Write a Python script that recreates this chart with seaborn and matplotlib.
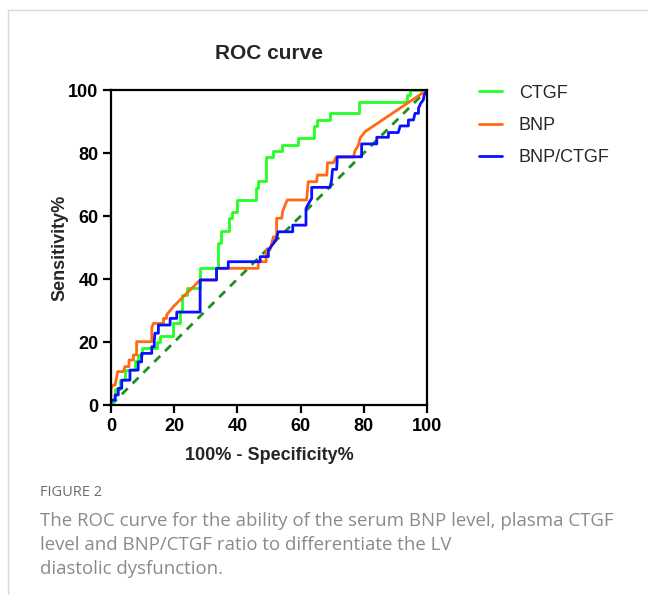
import numpy as np
import pandas as pd
import matplotlib
matplotlib.use("Agg")
import matplotlib.pyplot as plt
import seaborn as sns

# ---- data (x = 100% - specificity, y = sensitivity) ----
ctgf_x = [0, 0.5, 0.5, 1.3, 1.3, 2.8, 2.8, 4.4, 4.4, 7.6, 7.6, 8.6, 8.6, 9.7, 9.7,
          14.5, 14.5, 15.5, 15.5, 19.7, 19.7, 21.8, 21.8, 22.4, 22.4, 24.0, 24.0,
          28.2, 28.2, 34.0, 34.0, 34.7, 34.7, 37.4, 37.4, 38.3, 38.3, 39.8, 39.8,
          45.9, 45.9, 46.6, 46.6, 48.9, 48.9, 51.4, 51.4, 54.0, 54.0, 59.3, 59.3,
          64.2, 64.2, 65.1, 65.1, 69.3, 69.3, 78.6, 78.6, 93.6, 93.6, 94.6, 94.6, 100]
ctgf_y = [0, 0, 2, 2, 5, 5, 8, 8, 11, 11, 14, 14, 16, 16, 18,
          18, 20, 20, 22, 22, 26, 26, 30, 30, 35, 35, 37,
          37, 43.4, 43.4, 51.3, 51.3, 55.3, 55.3, 59.3, 59.3, 61.2, 61.2, 65.1,
          65.1, 69.0, 69.0, 71.1, 71.1, 78.8, 78.8, 80.7, 80.7, 82.7, 82.7, 84.7,
          84.7, 88.6, 88.6, 90.5, 90.5, 92.6, 92.6, 96.3, 96.3, 98.4, 98.4, 100, 100]

bnp_x = [0, 0, 0.5, 1.3, 2.1, 3.9, 4.4, 5.7, 5.7, 7.1, 7.1, 8.1, 8.1, 12.9, 12.9,
         13.4, 16.6, 16.6, 17.6, 17.6, 19.7, 28.2, 33.4, 33.4, 46.6, 46.6, 49.1,
         49.1, 50.3, 51.4, 52.4, 52.4, 54.0, 54.3, 55.1, 55.8, 61.9, 62.4, 65.1,
         65.3, 68.3, 68.5, 70.4, 71.2, 76.7, 77.2, 78.3, 78.8, 80.4, 100]
bnp_y = [0, 5, 6.3, 6.3, 10.6, 10.6, 12.2, 12.2, 14.3, 14.3, 15.9, 15.9, 20.1, 20.1, 24.5,
         25.9, 25.9, 27.5, 27.5, 28.6, 31.2, 39.7, 39.7, 43.4, 43.4, 45.5, 45.5,
         49.2, 49.2, 53.4, 53.4, 59.3, 59.3, 61.4, 63.5, 65.1, 65.1, 70.9, 70.9,
         73.0, 73.0, 76.9, 76.9, 78.7, 78.7, 80.7, 82.5, 84.7, 86.8, 100]

ratio_x = [0, 0, 1.3, 1.3, 2.3, 2.3, 3.4, 3.4, 6.0, 6.0, 8.6, 8.6, 9.7, 9.7, 12.9,
           12.9, 13.7, 13.7, 13.9, 15.0, 15.0, 18.7, 18.7, 20.8, 20.8, 28.2, 28.2,
           33.4, 33.4, 37.1, 37.1, 47.2, 47.2, 49.8, 49.8, 51.4, 52.4, 52.9, 57.5,
           57.5, 61.7, 61.7, 62.8, 63.5, 63.5, 69.3, 69.8, 70.1, 71.4, 71.6, 79.3,
           79.3, 84.1, 84.1, 87.8, 87.8, 90.9, 91.5, 94.1, 94.1, 95.7, 96.2, 97.3,
           97.3, 98.0, 98.8, 99.1, 100]
ratio_y = [0, 1.5, 1.5, 3.2, 3.2, 5.3, 5.3, 7.9, 7.9, 11.1, 11.1, 13.7, 13.7, 16.4, 16.4,
           18.5, 18.5, 20.6, 22.8, 22.8, 25.4, 25.4, 27.5, 27.5, 29.5, 29.5, 39.7,
           39.7, 43.4, 43.4, 45.5, 45.5, 47.1, 47.1, 49.2, 51.3, 52.9, 55.0, 55.0,
           57.1, 57.1, 62.4, 64.5, 65.6, 69.1, 69.1, 71.4, 74.8, 74.8, 78.8, 78.8,
           82.9, 82.9, 85.0, 85.0, 86.5, 86.5, 88.6, 88.6, 90.5, 90.5, 92.6, 92.6,
           94.2, 95.8, 96.8, 98.4, 100]

ref_x = [0, 100]
ref_y = [0, 100]

series_names = ["CTGF", "BNP", "BNP/CTGF"]
series_colors = ["#22ff22", "#ff6a13", "#0a10ff"]

frames = []
for name, xs, ys in zip(series_names, [ctgf_x, bnp_x, ratio_x], [ctgf_y, bnp_y, ratio_y]):
    frames.append(pd.DataFrame({"spec": xs, "sens": ys, "marker": name}))
df = pd.concat(frames, ignore_index=True)

# ---- figure ----
sns.set_style("white")
plt.rcParams["font.family"] = ["Liberation Sans", "DejaVu Sans"]

fig = plt.figure(figsize=(6.48, 5.95), dpi=100)
ax = fig.add_axes([0.1713, 0.3193, 0.4877, 0.5294])

sns.lineplot(x=ref_x, y=ref_y, ax=ax, color="#1f8f1f", lw=2, linestyle=(0, (3, 2.5)),
             legend=False, zorder=1)
sns.lineplot(data=df, x="spec", y="sens", hue="marker", palette=series_colors,
             sort=False, estimator=None, lw=2, ax=ax, zorder=2)

ax.set_xlim(0, 100)
ax.set_ylim(0, 100)
ax.set_xticks(np.arange(0, 101, 20))
ax.set_yticks(np.arange(0, 101, 20))
for s in ax.spines.values():
    s.set_linewidth(1.6)
    s.set_color("black")
ax.tick_params(direction="out", length=6, width=1.6, labelsize=13, pad=3,
               bottom=True, left=True, colors="black")
for lab in ax.get_xticklabels() + ax.get_yticklabels():
    lab.set_fontweight("bold")

ax.set_xlabel("100% - Specificity%", fontsize=13, fontweight="bold", labelpad=9)
ax.set_ylabel("Sensitivity%", fontsize=13, fontweight="bold", labelpad=0)
ax.set_title("ROC curve", fontsize=15, fontweight="bold", pad=22)

handles, labels = ax.get_legend_handles_labels()
ax.legend(handles, labels, loc="upper left", bbox_to_anchor=(0.714, 0.885),
          bbox_transform=fig.transFigure, frameon=False, fontsize=13,
          handlelength=1.3, handletextpad=0.9, labelspacing=0.85)

# page frame and caption
fig.add_artist(plt.Line2D([0.0125, 1.0], [0.983, 0.983], color="#d8d8d8", lw=1))
fig.add_artist(plt.Line2D([0.0125, 0.0125], [0.0, 0.983], color="#d8d8d8", lw=1))
fig.text(0.062, 0.172, "FIGURE 2", fontsize=10.5, color="#6c6c6c", family="Open Sans",
         va="center")
caption = ("The ROC curve for the ability of the serum BNP level, plasma CTGF\n"
           "level and BNP/CTGF ratio to differentiate the LV\n"
           "diastolic dysfunction.")
fig.text(0.062, 0.139, caption, fontsize=13.4, color="#8a8a8a", family="Open Sans",
         va="top", linespacing=1.42)

fig.savefig("out.png", dpi=100)
